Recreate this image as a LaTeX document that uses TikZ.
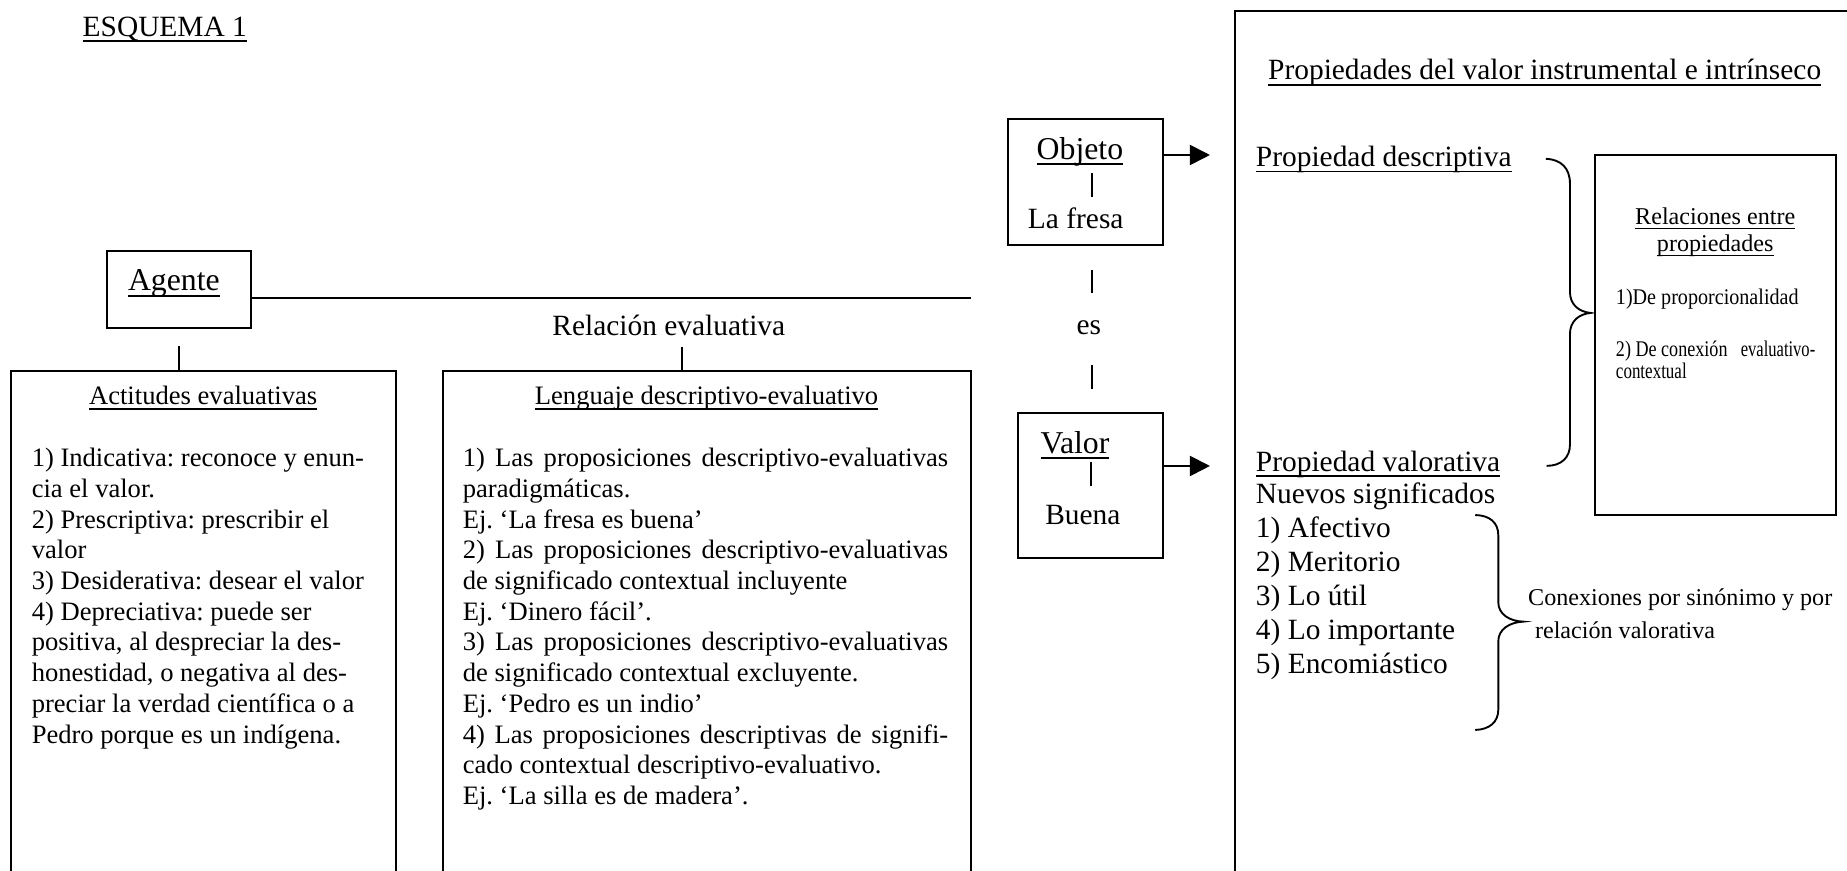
\documentclass[tikz,border=0pt]{standalone}
\usepackage{fontspec}
\setmainfont{Liberation Serif}
\usepackage{graphicx}
\usetikzlibrary{arrows.meta,fit}
\frenchspacing
\newsavebox\ulbox
\newcommand\ulin[1]{\sbox\ulbox{#1}\rlap{\rule[-0.19em]{\wd\ulbox}{0.06em}}\usebox\ulbox}
\newcommand\szNode{\fontsize{13.5pt}{16pt}\selectfont}
\newcommand\szMain{\fontsize{12.5pt}{14.45pt}\selectfont}
\newcommand\szBox{\fontsize{11.3pt}{13.05pt}\selectfont}
\newcommand\szSmall{\fontsize{10.25pt}{11.5pt}\selectfont}
\newcommand\szCond{\fontsize{9.5pt}{9.5pt}\selectfont}
\begin{document}
\begin{tikzpicture}[x=0.5pt,y=-0.5pt,line width=0.8pt,
  t/.style={inner sep=0pt,outer sep=0pt},
  frame/.style={draw,inner sep=0pt,outer sep=0pt},
  arr/.style={-{Triangle[length=8.5pt,width=8.5pt]}}]
\useasboundingbox (0,0) rectangle (1570,740.35);
\clip (0,0) rectangle (1570,740.35);
\fill[white] (0,0) rectangle (1570,740.35);

% frames
\node[frame,fit={(90.7,213) (213.6,279)}] (agente) {};
\node[frame,fit={(9.4,315) (336.3,790)}] (actit) {};
\node[frame,fit={(376.8,315) (825,790)}] (lengua) {};
\node[frame,fit={(857,101.4) (988.8,208.25)}] (objeto) {};
\node[frame,fit={(865.6,351.3) (988.8,474.6)}] (valor) {};
\node[frame,fit={(1049.5,9.5) (1640,800)}] (props) {};
\node[frame,fit={(1355.75,131.8) (1560.6,437.8)}] (relac) {};

% title
\node[t,anchor=base west] (esq) at (70.3,31) {\szMain\ulin{ESQUEMA 1}};

% agente and relation
\node[t,anchor=base] (agtxt) at (147.8,247) {\szNode\ulin{Agente}};
\coordinate (relend) at (825,253.6);
\draw (agente.east |- relend) -- (relend);
\node[t,anchor=base] (reltxt) at (568.5,285.6) {\szMain Relación evaluativa};
\coordinate (stA) at (152.4,294);
\draw (stA) -- (stA |- actit.north);
\coordinate (stL) at (580,294.7);
\draw (stL) -- (stL |- lengua.north);

% actitudes
\node[t,anchor=base] (acthd) at (172.7,344.25) {\szBox\ulin{Actitudes evaluativas}};
\node[t,anchor=base west] (actbody) at (27,396.7) {\begin{minipage}[t]{160pt}\szBox
1) Indicativa: reconoce y enun-\\
cia el valor.\\
2) Prescriptiva: prescribir el\\
valor\\
3) Desiderativa: desear el valor\\
4) Depreciativa: puede ser\\
positiva, al despreciar la des-\\
honestidad, o negativa al des-\\
preciar la verdad científica o a\\
Pedro porque es un indígena.\end{minipage}};

% lenguaje
\node[t,anchor=base] (lenhd) at (600.6,344.25) {\szBox\ulin{Lenguaje descriptivo-evaluativo}};
\node[t,anchor=base west] (lenbody) at (393.4,396.7) {\begin{minipage}[t]{215pt}\szBox
\makebox[206.3pt][s]{1) Las proposiciones descriptivo-evaluativas}\\
paradigmáticas.\\
Ej. ‘La fresa es buena’\\
\makebox[206.3pt][s]{2) Las proposiciones descriptivo-evaluativas}\\
de significado contextual incluyente\\
Ej. ‘Dinero fácil’.\\
\makebox[206.3pt][s]{3) Las proposiciones descriptivo-evaluativas}\\
de significado contextual excluyente.\\
Ej. ‘Pedro es un indio’\\
\makebox[206.3pt][s]{4) Las proposiciones descriptivas de signifi-}\\
cado contextual descriptivo-evaluativo.\\
Ej. ‘La silla es de madera’.\end{minipage}};

% objeto / valor column
\node[t,anchor=base] (objtxt) at (918,135.4) {\szNode\ulin{Objeto}};
\node[t,anchor=base] (fresa) at (914.4,194.1) {\szMain La fresa};
\node[t,anchor=base] (es) at (925.5,284.75) {\szMain es};
\node[t,anchor=base] (valtxt) at (913.75,385.3) {\szNode\ulin{Valor}};
\node[t,anchor=base] (buena) at (920.5,446.25) {\szMain Buena};
\draw (927.9,147.3) -- (927.9,167.7);
\draw (927.9,229.5) -- (927.9,249.3);
\draw (927.9,310.25) -- (927.9,331);
\draw (927.4,392.4) -- (927.4,413.1);

\coordinate (tipD) at (1028.5,131.75);
\coordinate (tipV) at (1028.5,396.1);
\draw[arr] (objeto.east |- tipD) -- (tipD);
\draw[arr] (valor.east |- tipV) -- (tipV);

% right panel
\node[t,anchor=base] (ptitle) at (1313,68) {\szMain\ulin{Propiedades del valor instrumental e intrínseco}};
\node[t,anchor=base west] (pdesc) at (1067.6,141.7) {\szMain\ulin{Propiedad descriptiva}};
\node[t,anchor=base west] (pval) at (1067.6,400.5) {\szMain\ulin{Propiedad valorativa}};
\node[t,anchor=base west] (plist) at (1067.6,428.4) {\begin{minipage}[t]{120pt}\szMain
Nuevos significados\\
1) Afectivo\\
2) Meritorio\\
3) Lo útil\\
4) Lo importante\\
5) Encomiástico\end{minipage}};

% relaciones box
\node[t,anchor=base] (rel1) at (1458,191) {\szSmall\ulin{Relaciones entre}};
\node[t,anchor=base] (rel2) at (1458,214) {\szSmall\ulin{propiedades}};
\node[t,anchor=base west] (rel3) at (1373.6,259) {\szCond\scalebox{0.9}[1]{1)De proporcionalidad}};
\node[t,anchor=base west] (rel4) at (1373.6,303) {\szCond\hbox to 84.7pt{\scalebox{0.81}[1]{2) De conexión}\hfill\scalebox{0.74}[1]{evaluativo-}}};
\node[t,anchor=base west] (rel5) at (1373.6,321.5) {\szCond\scalebox{0.76}[1]{contextual}};

% conexiones
\node[t,anchor=base west] (con1) at (1299,514.3) {\szSmall Conexiones por sinónimo y por};
\node[t,anchor=base west] (con2) at (1304.8,542.5) {\szSmall relación valorativa};

% braces
\draw (1314,135) .. controls (1327,135.5) and (1334.5,143) .. (1334.5,156)
  -- (1334.5,248) .. controls (1334.5,259) and (1342,265) .. (1352,266)
  .. controls (1342,267) and (1334.5,273) .. (1334.5,284)
  -- (1334.5,378) .. controls (1334.5,389) and (1327,396) .. (1314.7,396);
\draw (1254,437.8) .. controls (1266,438) and (1273.6,444) .. (1273.6,455)
  -- (1273.6,512) .. controls (1273.6,522) and (1283,528) .. (1294.7,528.4)
  .. controls (1283,529) and (1273.6,535) .. (1273.6,545)
  -- (1273.6,603) .. controls (1273.6,614) and (1266,620) .. (1254,620.5);
\end{tikzpicture}
\end{document}
